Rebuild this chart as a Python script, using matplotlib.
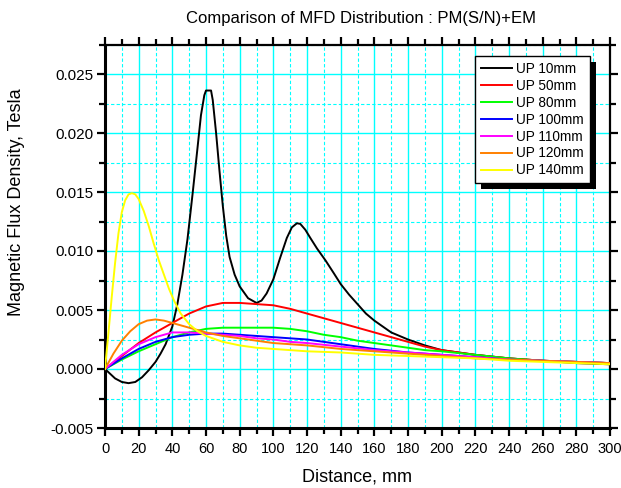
import matplotlib
matplotlib.use("Agg")
import matplotlib.pyplot as plt
from matplotlib.ticker import MultipleLocator, FormatStrFormatter
from matplotlib.patches import Rectangle

plt.rcParams['font.family'] = ['Liberation Sans', 'DejaVu Sans']

# ---- data (distance in mm, flux density in Tesla) ----
d_10 = [0, 3, 6, 10, 14, 18, 22, 26, 30, 33, 36, 40, 43, 46, 49, 52, 55, 57, 59, 60, 63,
        64, 66, 68, 70, 72, 74, 77, 80, 85, 90, 93, 96, 100, 104, 108, 111, 114, 116, 119,
        122, 126, 131, 136, 140, 145, 150, 155, 160, 165, 170, 180, 190, 200, 220, 240,
        260, 280, 300]
b_10 = [0, -0.0004, -0.0008, -0.0011, -0.0012, -0.0011, -0.0007, -0.0001, 0.0006, 0.0013,
        0.0021, 0.0036, 0.0055, 0.0080, 0.0110, 0.0148, 0.0188, 0.0215, 0.0232, 0.0236,
        0.0236, 0.0228, 0.0200, 0.0168, 0.0138, 0.0113, 0.0095, 0.0080, 0.0070, 0.0060,
        0.0056, 0.0058, 0.0064, 0.0076, 0.0094, 0.0111, 0.0120, 0.01235, 0.0123, 0.0118,
        0.0111, 0.0102, 0.0092, 0.0081, 0.0072, 0.0063, 0.0055, 0.0047, 0.0041, 0.0036,
        0.0031, 0.0025, 0.0020, 0.0016, 0.0012, 0.0009, 0.0007, 0.0005, 0.0004]

d_std = [0, 10, 20, 30, 40, 50, 60, 70, 80, 90, 100, 110, 120, 130, 140, 150, 160, 170,
         180, 190, 200, 220, 240, 260, 280, 300]
b_50 = [0, 0.0011, 0.0022, 0.0031, 0.0039, 0.0047, 0.0053, 0.0056, 0.0056, 0.0055,
        0.0054, 0.0051, 0.0047, 0.0043, 0.0039, 0.0035, 0.0031, 0.0027, 0.0023, 0.0019,
        0.0016, 0.0012, 0.0009, 0.0007, 0.0006, 0.0005]
b_80 = [0, 0.0008, 0.0015, 0.0021, 0.0027, 0.0031, 0.0034, 0.0035, 0.0035, 0.0035,
        0.0035, 0.0034, 0.0032, 0.0029, 0.0027, 0.0024, 0.0022, 0.0020, 0.0018, 0.0016,
        0.0015, 0.0012, 0.0009, 0.0007, 0.0006, 0.0005]
b_100 = [0, 0.0009, 0.0017, 0.0023, 0.0027, 0.0029, 0.0030, 0.0030, 0.0029, 0.0028,
         0.0027, 0.0026, 0.0025, 0.0023, 0.0021, 0.0019, 0.0017, 0.00155, 0.0014, 0.0013,
         0.0012, 0.0010, 0.0008, 0.0007, 0.0006, 0.0005]
b_110 = [0, 0.0012, 0.0021, 0.0027, 0.0031, 0.0031, 0.0030, 0.0029, 0.0028, 0.0026,
         0.0025, 0.0023, 0.0022, 0.00205, 0.0019, 0.00175, 0.0016, 0.0015, 0.0014, 0.0013,
         0.0012, 0.0010, 0.0008, 0.0007, 0.0006, 0.0005]

d_120 = [0, 5, 10, 15, 20, 25, 30, 35, 40, 50, 60, 70, 80, 90, 100, 110, 120, 140, 160,
         180, 200, 220, 240, 260, 280, 300]
b_120 = [0, 0.0013, 0.0024, 0.0032, 0.0038, 0.0041, 0.0042, 0.0041, 0.0039, 0.0035,
         0.0031, 0.0028, 0.0026, 0.0024, 0.0022, 0.0021, 0.0020, 0.0017, 0.0015, 0.0013,
         0.0011, 0.0009, 0.0008, 0.0007, 0.0006, 0.0005]

d_140 = [0, 2, 4, 6, 8, 10, 12, 14, 16, 18, 20, 23, 26, 29, 32, 35, 38, 41, 45, 50, 55,
         60, 70, 80, 90, 100, 120, 140, 160, 180, 200, 220, 240, 260, 280, 300]
b_140 = [0, 0.0030, 0.0061, 0.0090, 0.0115, 0.0133, 0.0143, 0.0148, 0.0149, 0.0148,
         0.0144, 0.0134, 0.0121, 0.0106, 0.0092, 0.0080, 0.0068, 0.0058, 0.0047, 0.0038,
         0.0032, 0.0028, 0.0023, 0.0020, 0.0018, 0.0017, 0.0015, 0.0014, 0.0012, 0.0011,
         0.0010, 0.0009, 0.0007, 0.0006, 0.0005, 0.0004]

series = [
    ("UP 10mm", d_10, b_10, "#000000"),
    ("UP 50mm", d_std, b_50, "#FF0000"),
    ("UP 80mm", d_std, b_80, "#00FF00"),
    ("UP 100mm", d_std, b_100, "#0000FF"),
    ("UP 110mm", d_std, b_110, "#FF00FF"),
    ("UP 120mm", d_120, b_120, "#FF8000"),
    ("UP 140mm", d_140, b_140, "#FFFF00"),
]

title = "Comparison of MFD Distribution : PM(S/N)+EM"
xlabel = "Distance, mm"
ylabel = "Magnetic Flux Density, Tesla"

# ---- figure ----
fig = plt.figure(figsize=(6.21, 4.88), dpi=100)
ax = fig.add_axes([105 / 621, 1 - 428 / 488, 505 / 621, 383.5 / 488])

for label, xs, ys, c in series:
    ax.plot(xs, ys, color=c, lw=1.4, label=label, zorder=3, solid_joinstyle='round')

ax.set_xlim(0, 300)
ax.set_ylim(-0.005, 0.0275)
ax.xaxis.set_major_locator(MultipleLocator(20))
ax.xaxis.set_minor_locator(MultipleLocator(10))
ax.yaxis.set_major_locator(MultipleLocator(0.005))
ax.yaxis.set_minor_locator(MultipleLocator(0.0025))
ax.yaxis.set_major_formatter(FormatStrFormatter('%.3f'))

ax.grid(True, which='major', color='#00FFFF', lw=1.0, ls='-', zorder=0)
ax.grid(True, which='minor', color='#00FFFF', lw=0.8, ls=(0, (3, 2)), zorder=0)
ax.set_axisbelow(True)

for side in ['left', 'bottom']:
    ax.spines[side].set_linewidth(2.2)
for side in ['top', 'right']:
    ax.spines[side].set_linewidth(1.6)

ax.tick_params(which='major', direction='out', length=6, width=1.6,
               top=True, right=True)
ax.tick_params(which='minor', direction='out', length=4, width=1.6,
               top=True, right=True)
ax.tick_params(axis='both', which='both', labeltop=False, labelright=False)
ax.tick_params(axis='x', which='major', labelsize=10.5, pad=4)
ax.tick_params(axis='y', which='major', labelsize=11, pad=2)

ax.set_xlabel(xlabel, fontsize=13)
ax.set_ylabel(ylabel, fontsize=13)
ax.xaxis.set_label_coords(0.5, -(477 - 428) / 383.5)
ax.yaxis.set_label_coords(-(105 - 17) / 505, 0.59)
ax.xaxis.label.set_va('center')
ax.yaxis.label.set_va('center')
fig.text(361 / 621, 1 - 19 / 488, title, ha='center', va='center', fontsize=12)

leg = ax.legend(loc='upper right', bbox_to_anchor=(0.960, 0.970), borderaxespad=0,
                fontsize=9.8, frameon=True, fancybox=False, framealpha=1,
                edgecolor='black', handlelength=2.3, handletextpad=0.3,
                labelspacing=0.21, borderpad=0.45)
leg.get_frame().set_linewidth(1.0)
leg.set_zorder(6)

fig.canvas.draw()
bb = leg.get_window_extent()
inv = ax.transAxes.inverted()
(x0, y0), (x1, y1) = inv.transform([(bb.x0 + 6, bb.y0 - 6), (bb.x1 + 6, bb.y1 - 6)])
ax.add_patch(Rectangle((x0, y0), x1 - x0, y1 - y0, transform=ax.transAxes,
                       facecolor='black', edgecolor='none', clip_on=False, zorder=5))

fig.savefig("out.png", dpi=100)
